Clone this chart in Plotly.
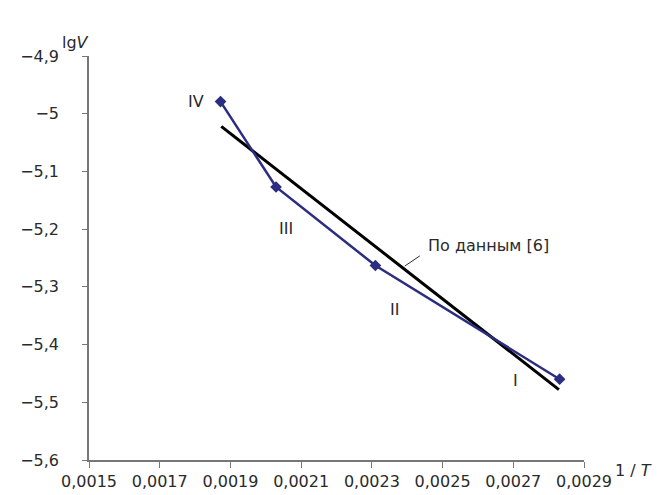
import plotly.graph_objects as go

# experimental points (1/T, lgV)
inv_T = [0.001872, 0.002029, 0.002310, 0.002831]
lg_V = [-4.979, -5.127, -5.263, -5.460]
point_labels = ["IV", "III", "II", "I"]
label_x = [0.001802, 0.002057, 0.002364, 0.002706]
label_y = [-4.979, -5.199, -5.340, -5.462]

# reference line "По данным [6]"
ref_x = [0.001874, 0.002829]
ref_y = [-5.022, -5.478]

x_ticks = [0.0015, 0.0017, 0.0019, 0.0021, 0.0023, 0.0025, 0.0027, 0.0029]
y_ticks = [-4.9, -5.0, -5.1, -5.2, -5.3, -5.4, -5.5, -5.6]

navy = "#2B2D80"
font = "DejaVu Sans, sans-serif"
txt = "#2a2a2a"

fig = go.Figure()
fig.add_trace(go.Scatter(x=ref_x, y=ref_y, mode="lines",
                         line=dict(color="black", width=3), hoverinfo="skip"))
fig.add_trace(go.Scatter(x=inv_T, y=lg_V, mode="lines+markers",
                         line=dict(color=navy, width=2.5),
                         marker=dict(symbol="diamond", size=9, color=navy)))

for t, lx, ly in zip(point_labels, label_x, label_y):
    fig.add_annotation(x=lx, y=ly, text=t, showarrow=False,
                       font=dict(size=16, color=txt, family=font))

fig.add_annotation(x=0.002393, y=-5.264, ax=0.002440, ay=-5.2445,
                   axref="x", ayref="y", showarrow=True, arrowhead=0,
                   arrowwidth=1, arrowcolor=txt, text="")
fig.add_annotation(x=0.002454, y=-5.229, text="По данным [6]", showarrow=False,
                   xanchor="left", font=dict(size=16, color=txt, family=font))

fig.update_layout(
    width=663, height=495,
    margin=dict(l=71, r=87, t=48, b=29),
    plot_bgcolor="white", paper_bgcolor="white",
    showlegend=False,
    separators=",.",
    font=dict(family=font, size=16, color=txt),
    xaxis=dict(range=[0.0015, 0.0029], tickvals=x_ticks, tickformat=".4f",
               showgrid=False, zeroline=False, showline=True, linecolor="#777",
               linewidth=1.5, ticks="outside", ticklen=6, tickcolor="#777",
               tickfont=dict(size=16)),
    yaxis=dict(range=[-5.6, -4.9], tickvals=y_ticks,
               showgrid=False, zeroline=False, showline=True, linecolor="#777",
               linewidth=1.5, ticks="outside", ticklen=5, tickcolor="#777",
               ticklabelstandoff=20, tickfont=dict(size=16)),
)

fig.add_annotation(xref="paper", yref="paper", x=-0.058, y=1.0, yshift=25,
                   text="lg<i>V</i>", showarrow=False, font=dict(size=16, family=font))
fig.add_annotation(xref="paper", yref="paper", x=1.0, xshift=70, y=0, yshift=-22,
                   text="1 / <i>T</i>", showarrow=False, font=dict(size=16, family=font))

fig.write_html("out.html")
